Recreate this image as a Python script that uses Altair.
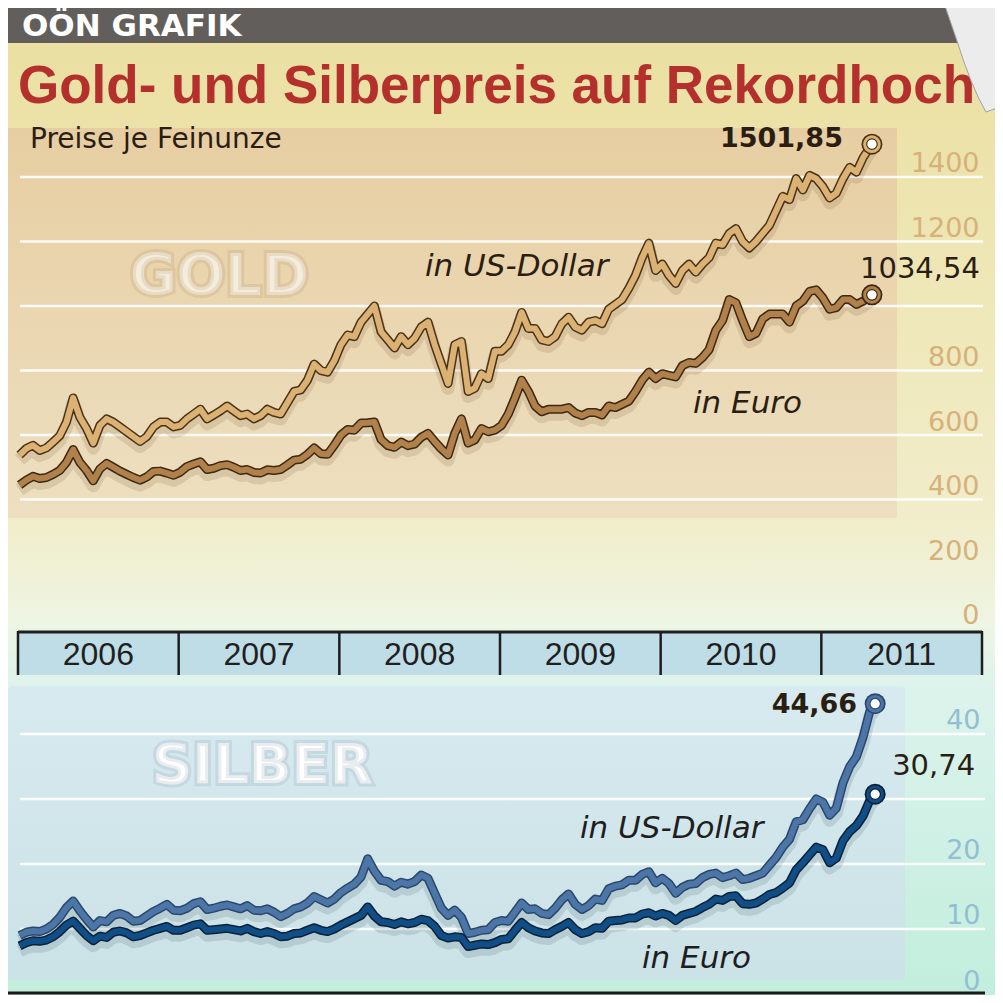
import altair as alt
import pandas as pd

W = 987
H = 987

# ---------------- data ----------------
# semi-monthly sample dates (decimal years) from Jan 2006
t_half = [round(2006.01 + k / 24, 4) for k in range(128)]
gold_end_t = 2011.315
silver_end_t = 2011.335

gold_usd = [
    538, 558, 568, 552, 560, 578, 598, 640, 715, 655, 620, 575, 630, 650, 640, 625, 610, 595, 580, 595, 625, 640, 640, 625,
    630, 650, 665, 680, 650, 662, 675, 690, 675, 660, 665, 650, 660, 680, 670, 665, 700, 735, 740, 770, 820, 800, 795, 830,
    880, 910, 905, 950, 975, 1000, 920, 895, 870, 905, 880, 900, 935, 950, 880, 820, 760, 880, 890, 735, 745, 790, 775, 860,
    860, 880, 920, 980, 930, 930, 895, 890, 905, 945, 965, 935, 925, 950, 955, 945, 990, 1005, 1020, 1055, 1095, 1150, 1195, 1110,
    1130, 1095, 1070, 1110, 1130, 1105, 1130, 1150, 1195, 1190, 1225, 1240, 1200, 1180, 1200, 1225, 1250, 1295, 1340, 1330, 1395, 1360, 1405, 1395,
    1370, 1335, 1350, 1395, 1430, 1415, 1460,
    1501.85,
]
gold_eur = [
    445, 460, 472, 465, 468, 478, 490, 515, 555, 515, 490, 458, 495, 512, 500, 488, 478, 468, 460, 470, 487, 488, 482, 475,
    485, 502, 510, 517, 493, 497, 505, 508, 500, 490, 493, 484, 482, 492, 490, 493, 507, 522, 525, 540, 560, 542, 540, 568,
    600, 617, 615, 637, 638, 640, 586, 567, 562, 578, 567, 572, 593, 605, 580, 557, 538, 605, 650, 575, 585, 620, 610, 615,
    630, 665, 715, 770, 735, 690, 672, 680, 680, 680, 685, 668, 660, 670, 670, 662, 690, 685, 695, 705, 735, 770, 795, 775,
    790, 785, 780, 815, 825, 822, 840, 865, 925, 955, 1020, 1010, 955, 905, 915, 960, 975, 975, 975, 950, 1000, 1015, 1045, 1050,
    1025, 990, 995, 1020, 1020, 1005, 1015,
    1034.54,
]
silver_usd = [
    9.0, 9.5, 9.7, 9.6, 10.0, 10.7, 11.8, 13.3, 14.3, 12.8, 11.5, 10.3, 11.3, 11.1, 12.1, 12.4, 12.0, 11.2, 11.3, 12.0, 12.7, 13.2, 13.8, 12.9,
    12.8, 13.2, 13.9, 14.2, 13.0, 13.2, 13.5, 13.7, 13.4, 13.1, 13.6, 12.9, 12.8, 13.1, 12.6, 11.9, 12.4, 13.1, 13.4, 14.0, 15.0, 14.5, 14.0, 14.6,
    15.6, 16.3, 16.9, 18.0, 20.8, 18.9, 17.5, 17.3, 16.6, 17.2, 16.9, 17.3, 18.3, 17.8, 15.5, 13.2, 12.1, 12.9, 11.8, 9.3, 9.5, 9.8, 9.9, 11.0,
    11.3, 11.2, 12.6, 14.0, 13.0, 13.1, 12.4, 12.2, 13.2, 14.5, 15.4, 13.8, 13.0, 13.6, 14.6, 14.4, 16.2, 16.6, 16.8, 17.5, 17.5, 18.4, 18.8, 17.1,
    17.8, 17.0, 15.5, 16.4, 16.9, 17.0, 17.9, 18.4, 18.6, 17.9, 18.2, 18.6, 17.6, 17.8, 18.2, 18.6, 19.8, 21.0, 22.6, 23.8, 26.5, 26.8, 28.5, 30.0,
    29.5, 27.5, 28.6, 32.5, 35.0, 36.5, 39.5, 43.5,
    44.66,
]
silver_eur = [
    7.4, 7.9, 8.2, 8.1, 8.3, 8.8, 9.6, 10.6, 11.2, 10.1, 9.0, 8.2, 8.9, 8.7, 9.5, 9.7, 9.4, 8.8, 9.0, 9.4, 9.8, 10.1, 10.4, 9.8,
    9.8, 10.2, 10.6, 10.8, 9.8, 9.9, 10.0, 10.1, 9.9, 9.7, 10.1, 9.6, 9.3, 9.6, 9.3, 8.8, 8.9, 9.3, 9.4, 9.8, 10.2, 9.8, 9.6, 10.0,
    10.6, 11.1, 11.6, 12.1, 13.4, 12.0, 11.1, 11.0, 10.7, 11.1, 10.8, 11.0, 11.5, 11.3, 10.4, 9.0, 8.6, 8.8, 8.7, 7.3, 7.5, 7.7, 7.6, 7.9,
    8.4, 8.5, 9.8, 11.0, 10.2, 9.7, 9.4, 9.3, 9.9, 10.4, 11.0, 9.9, 9.3, 9.6, 10.2, 10.1, 11.2, 11.3, 11.4, 11.7, 11.7, 12.3, 12.5, 12.0,
    12.4, 12.1, 11.3, 12.1, 12.4, 12.7, 13.3, 13.8, 14.6, 14.4, 15.0, 15.1, 13.9, 13.8, 14.0, 14.6, 15.3, 15.6, 16.3, 17.1, 19.1, 20.2, 21.4, 22.6,
    22.2, 20.2, 20.9, 23.6, 25.0, 25.9, 27.4, 29.8,
    30.74,
]

years = [2006, 2007, 2008, 2009, 2010, 2011]
gold_ticks = [0, 200, 400, 600, 800, 1200, 1400]
gold_grid = [400, 600, 800, 1000, 1200, 1400]
silver_ticks = [0, 10, 20, 40]
silver_grid = [10, 20, 30, 40]

gold_t = t_half[:len(gold_usd) - 1] + [gold_end_t]
silver_t = t_half[:len(silver_usd) - 1] + [silver_end_t]

gold_df = pd.DataFrame({"t": gold_t, "usd": gold_usd, "eur": gold_eur})
silver_df = pd.DataFrame({"t": silver_t, "usd": silver_usd, "eur": silver_eur})


def de(v):
    return f"{v:.2f}".replace(".", ",")


one = pd.DataFrame({"a": [0]})

# ---------------- scales ----------------
XS = alt.Scale(domain=[2005.93776, 2012.08091], nice=False, zero=False)
GOLD_DOM = [-1136.43, 1924.03]
SILVER_DOM = [-0.1538, 151.69]
GOLD_SH = [GOLD_DOM[0] + 15.5, GOLD_DOM[1] + 15.5]
SILVER_SH = [SILVER_DOM[0] + 0.77, SILVER_DOM[1] + 0.77]


def ys(dom):
    return alt.Scale(domain=dom, nice=False, zero=False)


def X(field):
    return alt.X(field, type="quantitative", scale=XS, axis=None)


def Y(field, dom, axis=None):
    return alt.Y(field, type="quantitative", scale=ys(dom), axis=axis)


def grad(stops):
    return alt.Gradient(
        gradient="linear",
        stops=[alt.GradientStop(color=c, offset=o) for o, c in stops],
        x1=0, x2=0, y1=0, y2=1,
    )


layers = []

# backgrounds
layers.append(
    alt.Chart(one).mark_rect(
        fill=grad([(0, "#ebe0a2"), (0.50, "#f1edca"), (0.61, "#eef5e3"), (0.68, "#dcf3ec"), (1, "#c2eedd")])
    ).encode(x=alt.value(0), x2=alt.value(W), y=alt.value(33), y2=alt.value(H))
)
layers.append(
    alt.Chart(one).mark_rect(fill="#625e5b").encode(
        x=alt.value(0), x2=alt.value(W), y=alt.value(0), y2=alt.value(35)
    )
)
layers.append(
    alt.Chart(one).mark_rect(fill=grad([(0, "#e7cea2"), (1, "#eddfc0")])).encode(
        x=alt.value(0), x2=alt.value(889), y=alt.value(120), y2=alt.value(510)
    )
)
layers.append(
    alt.Chart(one).mark_rect(cornerRadius=4, fill=grad([(0, "#d7eaf0"), (1, "#cbe2e6")])).encode(
        x=alt.value(0), x2=alt.value(897), y=alt.value(678), y2=alt.value(972)
    )
)

# gridlines + value axes
gold_axis = alt.Axis(
    orient="right", values=gold_ticks, format="d", grid=False, domain=False, ticks=False, tickSize=0,
    labelPadding=0, offset=-16, labelAlign="right", labelBaseline="alphabetic", labelOffset=-5,
    labelFont="DejaVu Sans", labelFontSize=27, labelColor="#d6b17a", labelOverlap=False,
    labelFlush=False, labelBound=False, title=None, zindex=1,
)
silver_axis = alt.Axis(
    orient="right", values=silver_ticks, format="d", grid=False, domain=False, ticks=False, tickSize=0,
    labelPadding=0, offset=-15, labelAlign="right", labelBaseline="alphabetic", labelOffset=-5,
    labelFont="DejaVu Sans", labelFontSize=27, labelColor="#93bed4", labelOverlap=False,
    labelFlush=False, labelBound=False, title=None, zindex=1,
)
layers.append(
    alt.Chart(pd.DataFrame({"v": gold_grid})).mark_rule(color="#ffffff", strokeWidth=2.5, opacity=0.9).encode(
        y=Y("v", GOLD_DOM, gold_axis), x=alt.value(12), x2=alt.value(975)
    )
)
layers.append(
    alt.Chart(pd.DataFrame({"v": silver_grid})).mark_rule(color="#ffffff", strokeWidth=2.5, opacity=0.9).encode(
        y=Y("v", SILVER_DOM, silver_axis), x=alt.value(12), x2=alt.value(977)
    )
)

# year band
year_df = pd.DataFrame({
    "start": years,
    "end": [y + 1 for y in years],
    "mid": [y + 0.5 for y in years],
    "label": [str(y) for y in years],
})
bounds_df = pd.DataFrame({"b": years + [years[-1] + 1]})
span_df = pd.DataFrame({"s": [years[0]], "e": [years[-1] + 1]})
layers.append(
    alt.Chart(year_df).mark_rect(fill="#bfdde6").encode(
        x=X("start"), x2="end", y=alt.value(624), y2=alt.value(667)
    )
)
layers.append(
    alt.Chart(bounds_df).mark_rule(color="#1e1e1e", strokeWidth=2.5).encode(
        x=X("b"), y=alt.value(623), y2=alt.value(667)
    )
)
layers.append(
    alt.Chart(span_df).mark_rule(color="#1e1e1e", strokeWidth=3).encode(
        x=X("s"), x2="e", y=alt.value(624)
    )
)
layers.append(
    alt.Chart(year_df).mark_text(
        font="Liberation Sans", fontSize=32, color="#1f1f1f", baseline="middle", align="center"
    ).encode(x=X("mid"), y=alt.value(647), text="label:N")
)


# price lines
def series(df, col, dom, shdom, fill, outline, shadow):
    out = []
    out.append(
        alt.Chart(df).mark_line(color=shadow, strokeWidth=13, opacity=0.15, strokeJoin="round").encode(
            x=X("t"), y=Y(col, shdom)
        )
    )
    out.append(
        alt.Chart(df).mark_line(color=outline, strokeWidth=9, strokeJoin="round").encode(
            x=X("t"), y=Y(col, dom)
        )
    )
    out.append(
        alt.Chart(df).mark_line(color=fill, strokeWidth=6, strokeJoin="round").encode(
            x=X("t"), y=Y(col, dom)
        )
    )
    return out


layers += series(gold_df, "usd", GOLD_DOM, GOLD_SH, "#dcb274", "#4a3318", "#6b4a20")
layers += series(gold_df, "eur", GOLD_DOM, GOLD_SH, "#b0814a", "#3d2812", "#6b4a20")
layers += series(silver_df, "usd", SILVER_DOM, SILVER_SH, "#4d76a8", "#2b476a", "#2e4a5a")
layers += series(silver_df, "eur", SILVER_DOM, SILVER_SH, "#0f4e86", "#0a2138", "#2e4a5a")


# end markers and end labels
def end_marker(df, col, dom, ring, outline, dx, dy, bold):
    last = df.tail(1).copy()
    last["label"] = de(float(last[col].iloc[0]))
    out = []
    for size, color in [(440, outline), (310, ring), (110, "#ffffff")]:
        out.append(
            alt.Chart(last).mark_point(
                shape="circle", filled=True, fill=color, size=size, opacity=1,
                stroke=outline if color == "#ffffff" else None, strokeWidth=1.2 if color == "#ffffff" else 0,
            ).encode(x=X("t"), y=Y(col, dom))
        )
    out.append(
        alt.Chart(last).mark_text(
            align="right", baseline="alphabetic", dx=dx, dy=dy, font="DejaVu Sans",
            fontSize=27 if bold else 29, fontWeight="bold" if bold else "normal", color="#2a1e12",
        ).encode(x=X("t"), y=Y(col, dom), text="label:N")
    )
    return out


layers += end_marker(gold_df, "usd", GOLD_DOM, "#dcb274", "#4a3318", -29, 3, True)
layers += end_marker(gold_df, "eur", GOLD_DOM, "#b0814a", "#3d2812", 108, -17, False)
layers += end_marker(silver_df, "usd", SILVER_DOM, "#4d76a8", "#2b476a", -18, 9, True)
layers += end_marker(silver_df, "eur", SILVER_DOM, "#0f4e86", "#0a2138", 100, -19, False)


# texts
def txt(s, x, y, size, color, font="DejaVu Sans", weight="normal", style="normal", align="left", **kw):
    return alt.Chart(one).mark_text(
        text=s, font=font, fontSize=size, fontWeight=weight, fontStyle=style, color=color,
        align=align, baseline="alphabetic", **kw,
    ).encode(x=alt.value(x), y=alt.value(y))


layers.append(txt("OÖN GRAFIK", 14, 28, 31, "#ffffff", weight="bold"))
layers.append(txt("Gold- und Silberpreis auf Rekordhoch", 10, 95, 53, "#b3302d",
                  font="Liberation Sans", weight="bold"))
layers.append(txt("Preise je Feinunze", 22, 140, 28, "#2a1e12"))
layers.append(txt("GOLD", 122, 287, 57, "#f5eddc", weight="bold",
                  stroke="#8a6434", strokeWidth=6, strokeOpacity=0.12))
layers.append(txt("SILBER", 144, 775, 56, "#ffffff", weight="bold",
                  stroke="#4f6f80", strokeWidth=6, strokeOpacity=0.12))
layers.append(txt("in US-Dollar", 417, 268, 31, "#2a1e12", style="italic"))
layers.append(txt("in Euro", 685, 405, 31, "#2a1e12", style="italic"))
layers.append(txt("in US-Dollar", 572, 830, 31, "#1e1e22", style="italic"))
layers.append(txt("in Euro", 634, 960, 31, "#1e1e22", style="italic"))

# page curl in the top right corner
curl_path = "M-0.564,-0.982 L0.527,-0.982 L0.527,0.945 L0.218,1.055 Q-0.05,0.6 -0.327,-0.291 Z"
layers.append(
    alt.Chart(one).mark_point(
        shape=curl_path, size=12100, filled=True, fill="#ececec", stroke="#a0a0a0", strokeWidth=1, opacity=1
    ).encode(x=alt.value(966), y=alt.value(46))
)

# bottom rule
layers.append(
    alt.Chart(one).mark_rule(color="#1a1a1a", strokeWidth=3).encode(
        x=alt.value(0), x2=alt.value(977), y=alt.value(985)
    )
)

chart = (
    alt.layer(*layers)
    .resolve_scale(y="independent")
    .properties(width=W, height=H, autosize=alt.AutoSizeParams(type="none"), padding=0, background="#ffffff")
    .configure_view(stroke=None)
)

chart.save("out.html", embed_options={"renderer": "svg", "actions": False})
